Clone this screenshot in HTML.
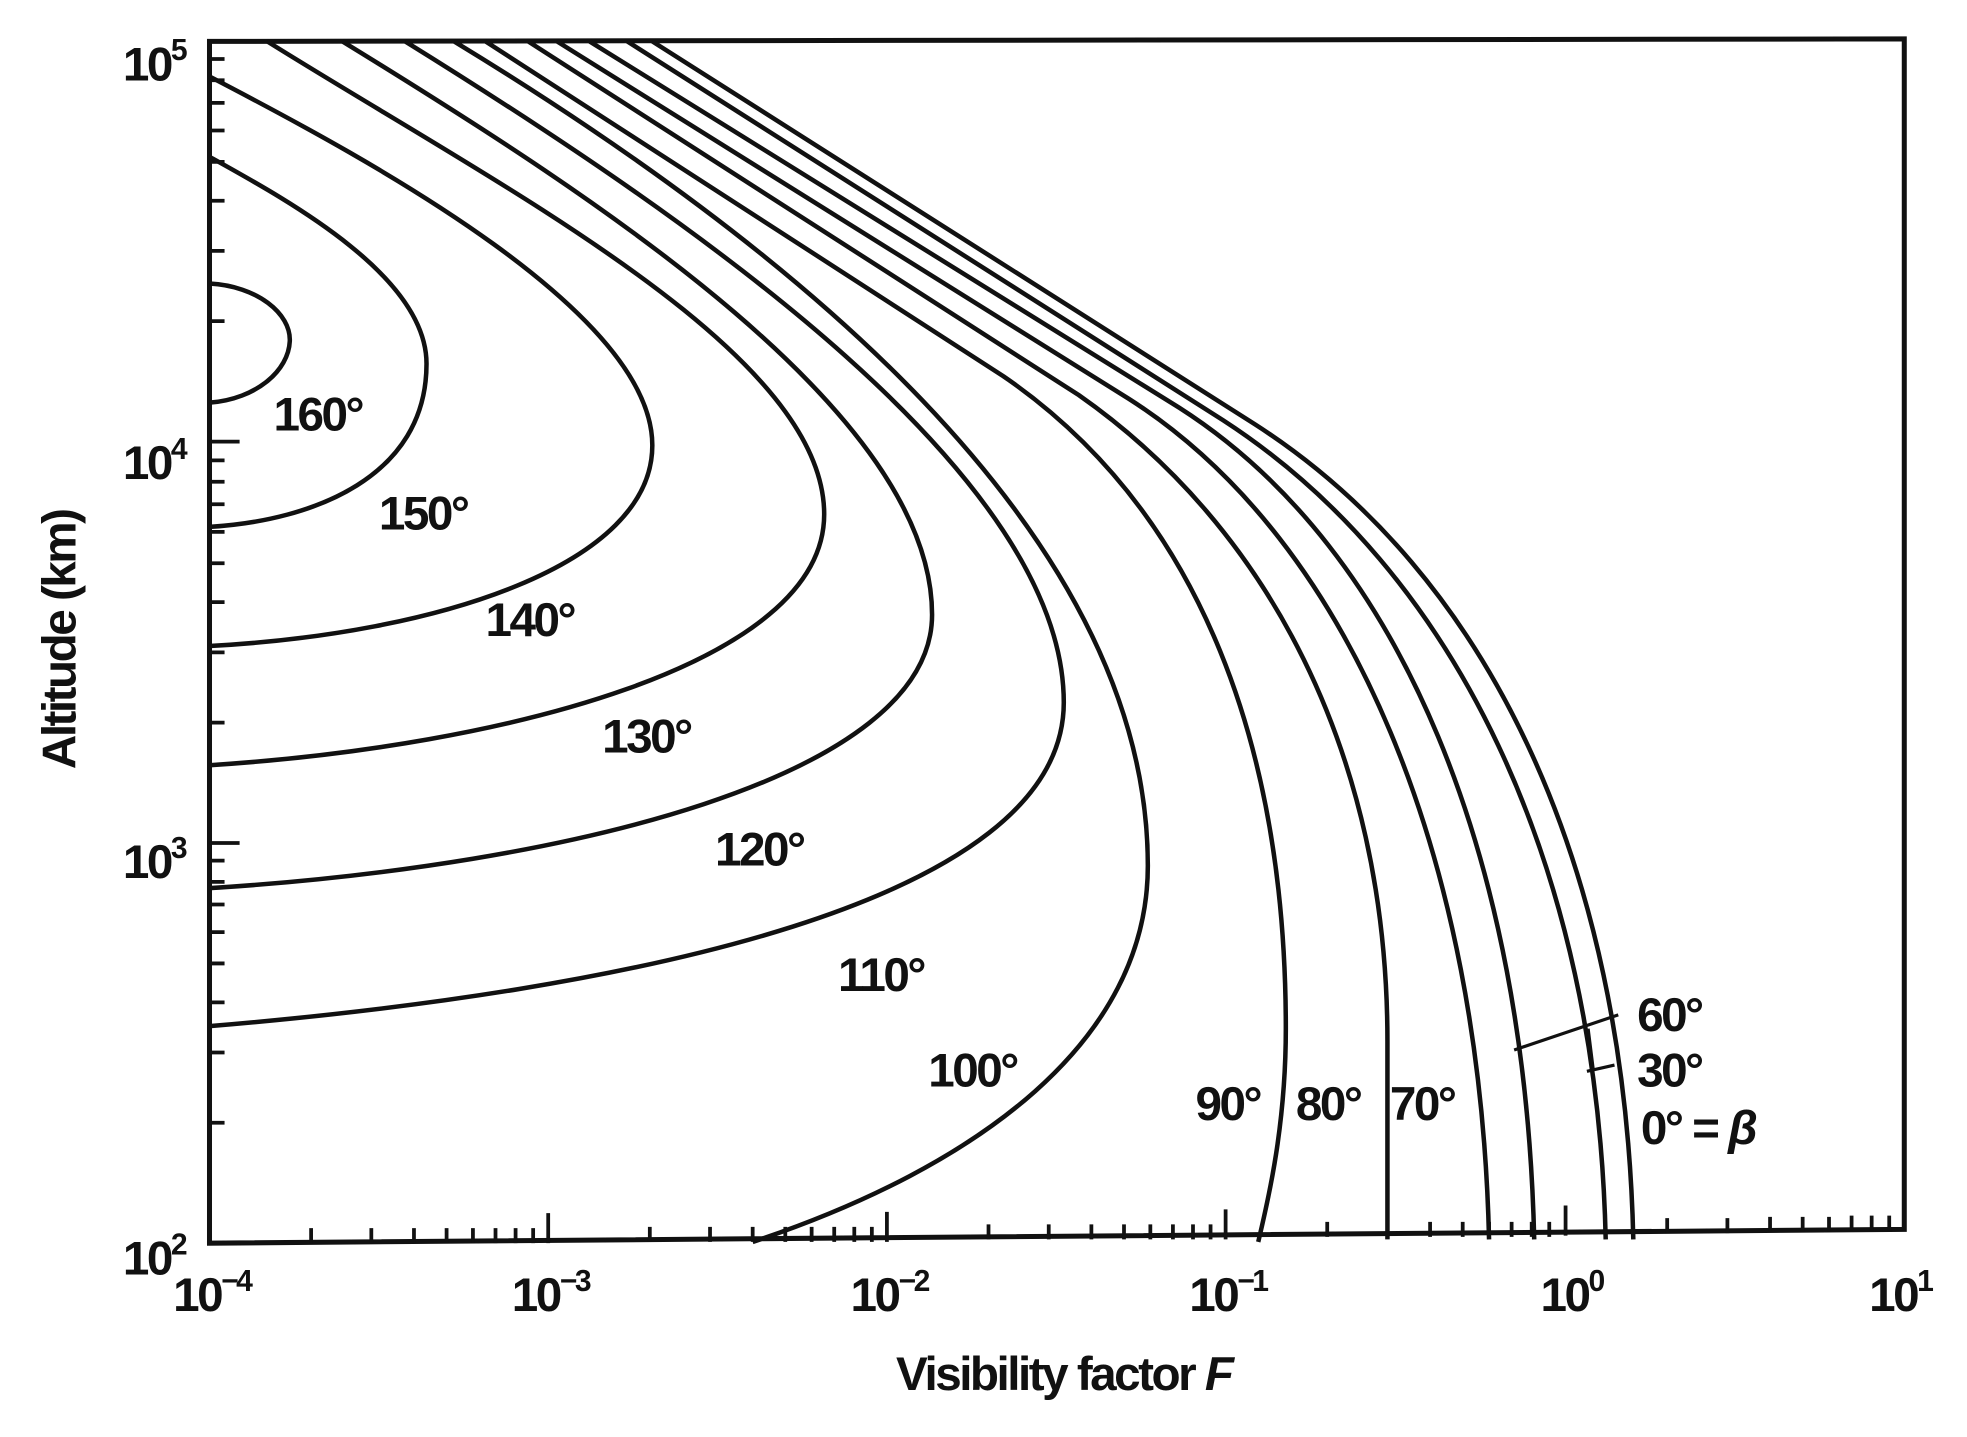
<!DOCTYPE html>
<html><head><meta charset="utf-8"><style>
html,body{margin:0;padding:0;background:#fff;}
svg{display:block;}
text{font-family:"Liberation Sans",sans-serif;fill:#111;}
</style></head><body>
<svg width="1967" height="1437" viewBox="0 0 1568 1145.5" preserveAspectRatio="none" xmlns="http://www.w3.org/2000/svg">
<rect x="0" y="0" width="1568" height="1146" fill="#fff"/>
<g fill="none" stroke="#111" stroke-width="4">
<path d="M167,33 L1518,31 L1518,980 L167,991 Z"/>
</g>
<g fill="none" stroke="#111" stroke-width="3">
<path d="M248,991v-12M296,991v-12M330,991v-12M356,991v-12M377,991v-12M395,991v-12M411,991v-12M425,991v-12M437,991v-24
M518,990v-12M566,990v-12M600,990v-12M626,990v-12M647,990v-12M665,990v-12M681,990v-12M695,990v-12M707,990v-24
M788,988v-12M836,988v-12M870,988v-12M896,988v-12M917,988v-12M935,988v-12M951,988v-12M965,988v-12M977,988v-24
M1058,986v-12M1106,986v-12M1140,986v-12M1166,986v-12M1187,986v-12M1205,986v-12M1221,986v-12M1235,986v-12M1248,985v-24
M1329,983v-12M1377,983v-12M1411,982v-12M1437,982v-12M1458,982v-12M1476,981v-12M1492,981v-12M1506,981v-12"/>
<path d="M167,895h12M167,839h12M167,799h12M167,768h12M167,743h12M167,721h12M167,703h12M167,686h12M167,672h24
M167,576h12M167,520h12M167,480h12M167,449h12M167,424h12M167,402h12M167,384h12M167,367h12M167,352h24
M167,256h12M167,200h12M167,160h12M167,129h12M167,104h12M167,82h12M167,64h12M167,47h12"/>
</g>
<g fill="none" stroke="#111" stroke-width="3.6">
<path d="M167,226 C205,228 232,250 231,272 C230,295 205,318 167,321"/>
<path d="M167,125 C230,160 340,220 340,290 C340,380 250,415 167,420"/>
<path d="M167,61 C300,130 520,250 520,355 C520,450 350,505 167,515"/>
<path d="M213,33 C400,150 657,280 657,410 C657,530 400,595 167,610"/>
<path d="M273,33 C480,160 743,330 743,490 C743,620 450,690 167,708"/>
<path d="M323,33 C560,180 848,380 848,560 C848,720 500,790 167,818"/>
<path d="M362,33 C620,190 915,420 915,690 C915,830 780,930 600,990"/>
<path d="M387,33 L800,300 C960,410 1025,600 1025,820 C1025,900 1010,960 1003,990"/>
<path d="M421,33 L860,315 C1010,420 1106,600 1106,830 L1106,988"/>
<path d="M444,33 L900,318 C1080,433 1180,688 1187,988"/>
<path d="M470,33 L940,325 C1120,440 1216,688 1223,988"/>
<path d="M500,33 L975,335 C1160,455 1273,688 1280,988"/>
<path d="M520,33 L1000,338 C1187,458 1295,688 1302,988"/>
<path d="M1290,809 L1207,837 M1287,849 L1265,854 M1266,820 L1270,852" stroke-width="2.5"/>
</g>
<g font-size="38" font-weight="bold" letter-spacing="-2">
<text x="218" y="343">160°</text>
<text x="302" y="422">150°</text>
<text x="387" y="507">140°</text>
<text x="480" y="600">130°</text>
<text x="570" y="690">120°</text>
<text x="668" y="790">110°</text>
<text x="740" y="866">100°</text>
<text x="953" y="893">90°</text>
<text x="1033" y="893">80°</text>
<text x="1108" y="893">70°</text>
<text x="1305" y="822">60°</text>
<text x="1305" y="866">30°</text>
<text x="1308" y="912">0° = <tspan font-style="italic">β</tspan></text>
</g>
<g font-size="38" font-weight="bold" letter-spacing="-2">
<text x="98" y="64">10<tspan font-size="24" dy="-16">5</tspan></text>
<text x="98" y="382">10<tspan font-size="24" dy="-16">4</tspan></text>
<text x="98" y="700">10<tspan font-size="24" dy="-16">3</tspan></text>
<text x="98" y="1016">10<tspan font-size="24" dy="-16">2</tspan></text>
<text x="138" y="1045">10<tspan font-size="24" dy="-16">−4</tspan></text>
<text x="408" y="1045">10<tspan font-size="24" dy="-16">−3</tspan></text>
<text x="678" y="1045">10<tspan font-size="24" dy="-16">−2</tspan></text>
<text x="948" y="1045">10<tspan font-size="24" dy="-16">−1</tspan></text>
<text x="1228" y="1045">10<tspan font-size="24" dy="-16">0</tspan></text>
<text x="1490" y="1045">10<tspan font-size="24" dy="-16">1</tspan></text>
<text x="848" y="1108" text-anchor="middle">Visibility factor <tspan font-style="italic">F</tspan></text>
<text x="0" y="0" text-anchor="middle" transform="translate(60,510) rotate(-90)">Altitude (km)</text>
</g>
</svg>
</body></html>
